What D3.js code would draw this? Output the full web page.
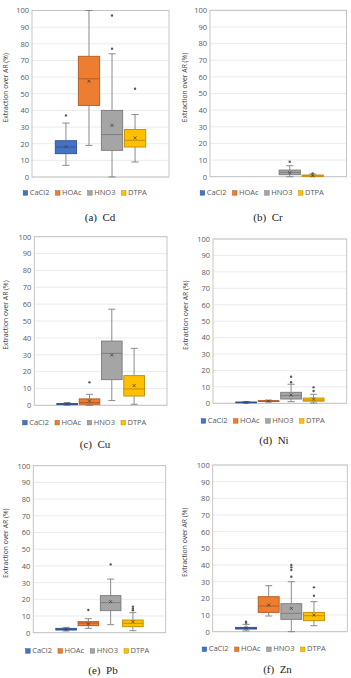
<!DOCTYPE html>
<html><head><meta charset="utf-8">
<script src="https://cdn.jsdelivr.net/npm/d3@7"></script>
<style>body{margin:0;background:#fff}svg{display:block}</style>
</head><body><svg id="c" width="351" height="678"></svg>
<script>
const series = ["CaCl2","HOAc","HNO3","DTPA"];
const seriesFill = ["#4472C4","#ED7D31","#A5A5A5","#FFC000"];
const seriesLine = ["#2F528F","#AE5A21","#7A7A7A","#BC8C00"];
const yTicks = [0,10,20,30,40,50,60,70,80,90,100];
const yTitle = "Extraction over AR (%)";
const captions = ["(a)  Cd","(b)  Cr","(c)  Cu","(d)  Ni","(e)  Pb","(f)  Zn"];
// stats per series: [whiskerLow, q1, median, q3, whiskerHigh, mean]
const cdStats = [[7,14,18,21.8,32.4,18.2],[19,43,59,72.5,100,57.5],[0,16,25.5,40,74,31],[9,18,22,28.5,37.5,23.5]];
const cdOutliers = [[37],[],[77,97],[53]];
const crStats = [null,null,[0,1.2,2.6,4,6.6,2.4],[0,0.2,0.5,1,1.6,0.6]];
const crOutliers = [[],[],[9],[2]];
const cuStats = [[0.1,0.4,0.7,1.1,1.6,0.8],[0,0.6,1.6,3.8,6.5,2.6],[2.8,15.2,30.8,38.1,57,29.8],[0.6,5.5,9.7,17.6,33.8,11.7]];
const cuOutliers = [[],[13.6],[],[]];
const niStats = [[0.1,0.3,0.5,0.8,1.1,0.5],[0.8,1.1,1.3,1.6,1.9,1.35],[1,2.6,4.7,6.7,11.6,5],[0.2,1.3,2,3.2,5.5,2.5]];
const niOutliers = [[],[],[12.8,16.2],[7.5,9.7]];
const pbStats = [[1,1.6,2,2.6,3.2,2],[2.6,4.2,5.8,6.6,8.4,5.2],[4.8,13.2,18,22.2,32.1,18.6],[1.2,3.6,5.6,7.6,12,6.6]];
const pbOutliers = [[],[13.6],[40.9],[13.4,14.4,15.6]];
const znStats = [[0.5,1.6,2,2.6,4.4,2.2],[9.4,11.6,15.4,21,27.6,16],[0,7.4,11,16.8,30,14],[3.6,6.6,9.6,11.6,18,10]];
const znOutliers = [[5.4,6],[],[33,37,38.6,40],[21.6,26.6]];

const panelStats = [cdStats,crStats,cuStats,niStats,pbStats,znStats];
const panelOutliers = [cdOutliers,crOutliers,cuOutliers,niOutliers,pbOutliers,znOutliers];

// layout (plot area L,R,T,B ; title x ; legend center x,y ; caption x,y)
const layout = [
  {L:32,R:169,T:10.5,B:177,tx:6,lx:85,ly:193,cx:100,cy:218},
  {L:210,R:346.5,T:10.3,B:176.7,tx:185,lx:262,ly:193,cx:268,cy:218},
  {L:34.3,R:167,T:236.7,B:405.3,tx:6,lx:84.5,ly:422.7,cx:95,cy:445},
  {L:213,R:346.7,T:239,B:403.3,tx:186,lx:263,ly:421,cx:274,cy:441.7},
  {L:33.3,R:165.7,T:465.7,B:632.7,tx:6,lx:87.5,ly:651,cx:103,cy:671.7},
  {L:212.7,R:347.3,T:465,B:631.7,tx:185,lx:264,ly:649.3,cx:277.5,cy:670}
];

const svg = d3.select("#c");
svg.append("rect").attr("width",351).attr("height",678).attr("fill","#fff");
const font = "'Open Sans', sans-serif";

layout.forEach((p,i)=>{
  const g = svg.append("g");
  const W = p.R-p.L;
  const y = d3.scaleLinear().domain([0,100]).range([p.B,p.T]);
  const x = d3.scaleBand().domain(series).range([p.L+0.17*W,p.R-0.17*W]).paddingInner(0.075);
  // gridlines
  g.selectAll(".grid").data(yTicks).join("line")
    .attr("x1",p.L).attr("x2",p.R).attr("y1",d=>y(d)).attr("y2",d=>y(d))
    .attr("stroke","#e6e6e6").attr("stroke-width",0.8);
  // axis labels
  const ax = g.append("g").attr("transform",`translate(${p.L},0)`)
    .call(d3.axisLeft(y).tickValues(yTicks).tickSize(0).tickPadding(3));
  ax.select(".domain").remove();
  ax.selectAll("text").attr("font-family",font).attr("font-size",7.5).attr("fill","#595959");
  // frame
  g.append("rect").attr("x",p.L).attr("y",p.T).attr("width",W).attr("height",p.B-p.T)
    .attr("fill","none").attr("stroke","#bfbfbf").attr("stroke-width",0.9);
  // y title
  g.append("text").attr("transform",`translate(${p.tx},${(p.T+p.B)/2-6}) rotate(-90)`)
    .attr("text-anchor","middle").attr("dominant-baseline","middle")
    .attr("font-family",font).attr("font-size",6.8).attr("fill","#404040").text(yTitle);
  // boxes
  const bw = x.bandwidth();
  panelStats[i].forEach((s,k)=>{
    const cxm = x(series[k])+bw/2;
    if(s){
      const [lo,q1,md,q3,hi,mn] = s;
      const wc = "#7f7f7f";
      g.append("line").attr("x1",cxm).attr("x2",cxm).attr("y1",y(hi)).attr("y2",y(q3)).attr("stroke",wc).attr("stroke-width",0.9);
      g.append("line").attr("x1",cxm).attr("x2",cxm).attr("y1",y(q1)).attr("y2",y(lo)).attr("stroke",wc).attr("stroke-width",0.9);
      [hi,lo].forEach(v=>g.append("line").attr("x1",cxm-bw*0.17).attr("x2",cxm+bw*0.17).attr("y1",y(v)).attr("y2",y(v)).attr("stroke",wc).attr("stroke-width",0.9));
      g.append("rect").attr("x",x(series[k])).attr("y",y(q3)).attr("width",bw).attr("height",Math.max(0.8,y(q1)-y(q3)))
        .attr("fill",seriesFill[k]).attr("stroke",seriesLine[k]).attr("stroke-width",0.9);
      g.append("line").attr("x1",x(series[k])).attr("x2",x(series[k])+bw).attr("y1",y(md)).attr("y2",y(md)).attr("stroke",seriesLine[k]).attr("stroke-width",0.9);
      const ym = y(mn), r=1.5;
      g.append("path").attr("d",`M${cxm-r},${ym-r}L${cxm+r},${ym+r}M${cxm-r},${ym+r}L${cxm+r},${ym-r}`)
        .attr("stroke","#404040").attr("stroke-width",0.8);
    }
    panelOutliers[i][k].forEach(v=>{
      g.append("circle").attr("cx",cxm).attr("cy",y(v)).attr("r",1.2).attr("fill","#595959");
    });
  });
  // legend
  const lg = g.append("g");
  let xx = 0;
  const items = [];
  series.forEach((s,k)=>{
    const it = lg.append("g").attr("transform",`translate(${xx},0)`);
    it.append("rect").attr("x",0).attr("y",-2.3).attr("width",4.5).attr("height",4.5)
      .attr("fill",seriesFill[k]).attr("stroke",seriesLine[k]).attr("stroke-width",0.5);
    const t = it.append("text").attr("x",6.5).attr("y",0).attr("dominant-baseline","middle")
      .attr("font-family",font).attr("font-size",7.5).attr("fill","#595959").text(s);
    xx += 6.5 + t.node().getComputedTextLength() + 6;
  });
  const totalW = xx-6;
  lg.attr("transform",`translate(${p.lx-totalW/2},${p.ly})`);
  // caption
  g.append("text").attr("x",p.cx).attr("y",p.cy).attr("text-anchor","middle").attr("dominant-baseline","middle")
    .attr("font-family","'Liberation Serif', serif").attr("font-size",11).attr("fill","#222")
    .attr("xml:space","preserve").style("white-space","pre").text(captions[i]);
});
</script></body></html>
